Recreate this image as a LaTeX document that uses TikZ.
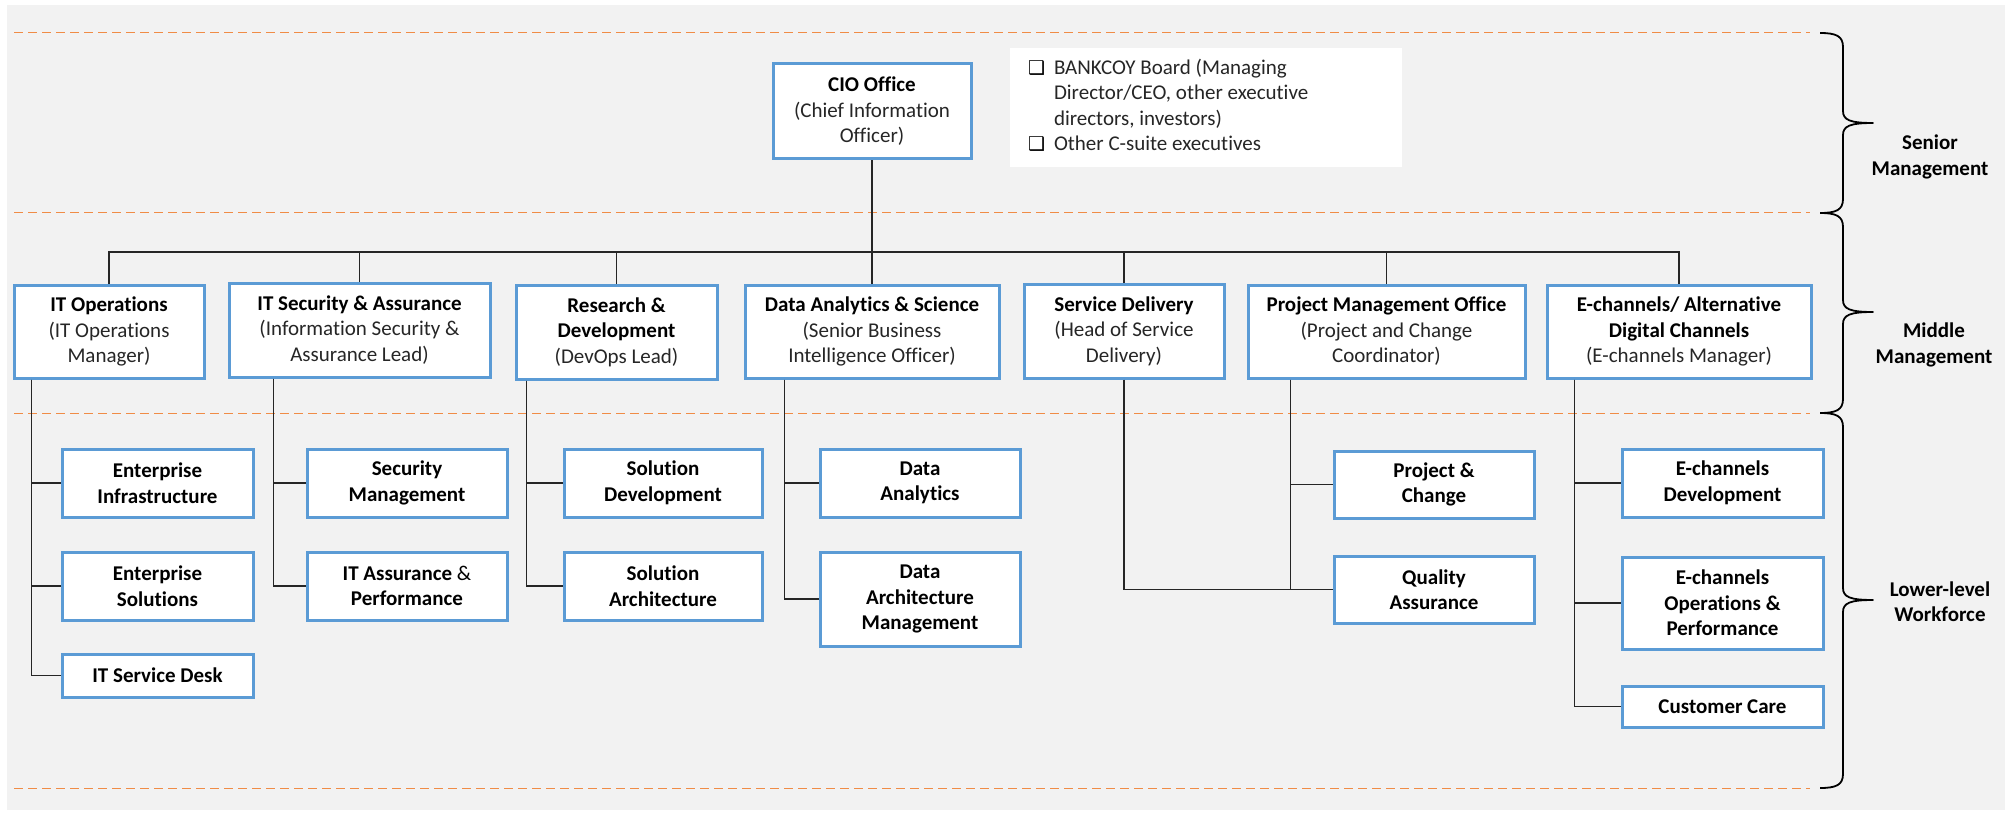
\documentclass[tikz,border=0pt]{standalone}
\usepackage{fontspec}
\setmainfont{Carlito}[Ligatures={NoCommon,NoRare,NoDiscretionary}]
\newfontfamily\symfont{DejaVu Sans}
\usetikzlibrary{calc}
\definecolor{boxblue}{RGB}{91,155,213}
\definecolor{dashorange}{RGB}{240,140,70}
\definecolor{bggray}{RGB}{242,242,242}
\definecolor{subgray}{RGB}{38,38,38}
\definecolor{linegray}{RGB}{38,38,38}
\newcommand\subt[1]{{\mdseries\color{subgray}#1}}
\newcommand\bulletbox{\makebox[15pt][l]{\smash{\textcolor{black}{\symfont\fontsize{19pt}{19pt}\selectfont ❑}}}}
\newcommand\orgbrace[3]{%
  \draw[bracestyle] (1820,#1) .. controls (1836,#1) and (1843,#1+3) .. (1843,#1+14)
    -- (1843,#2-12) .. controls (1843,#2-3) and (1850,#2) .. (1873,#2)
    .. controls (1850,#2) and (1843,#2+3) .. (1843,#2+12)
    -- (1843,#3-14) .. controls (1843,#3-3) and (1836,#3) .. (1820,#3);}
\begin{document}
\begin{tikzpicture}[x=1pt,y=-1pt,
  orgbox/.style={draw=boxblue, line width=3pt, fill=white, align=center, inner sep=0pt,
    font=\fontsize{21pt}{25.5pt}\selectfont\bfseries, text=black},
  conn/.style={draw=linegray, line width=1.3pt},
  dashline/.style={draw=dashorange, line width=1pt, dash pattern=on 9pt off 5pt},
  bracestyle/.style={draw=black, line width=1.8pt, line join=round},
  lvl/.style={font=\fontsize{21pt}{25.5pt}\selectfont\bfseries, align=center, inner sep=0pt, text=black},
]
\useasboundingbox (0,0) rectangle (2011,813);
\fill[bggray] (7,5) rectangle (2005,810);

% level separators
\draw[dashline] (14,33) -- (1810,33);
\draw[dashline] (14,213) -- (1810,213);
\draw[dashline] (14,413) -- (1810,413);
\draw[dashline] (14,788) -- (1810,788);

% braces
\orgbrace{33}{123}{213}
\orgbrace{213}{312}{413}
\orgbrace{413}{600}{788}

\node[lvl] (lsenior) at (1930,157) {Senior\\Management};
\node[lvl] (lmiddle) at (1934,345) {Middle\\Management};
\node[lvl] (llower) at (1940,601.5) {Lower-level\\Workforce};

% board note
\node[fill=white, inner sep=0pt, minimum width=392pt, minimum height=119pt,
  font=\fontsize{21pt}{25.5pt}\selectfont, text=linegray] (board) at (1206,107.5)
  {\begin{tabular}{@{}l@{\hspace{11pt}}p{330pt}@{}}
   \bulletbox & BANKCOY Board (Managing\\
   & Director/CEO, other executive\\
   & directors, investors)\\
   \bulletbox & Other C-suite executives
   \end{tabular}};

% top
\node[orgbox, minimum width=198pt, minimum height=95pt] (cio) at (872,111.5)
  {CIO Office\\\subt{(Chief Information}\\\subt{Officer)}};

% middle management
\node[orgbox, minimum width=190pt, minimum height=93pt] (itops) at (109,331.5)
  {IT Operations\\\subt{(IT Operations}\\\subt{Manager)}};
\node[orgbox, minimum width=261pt, minimum height=94pt] (itsec) at (359.5,330)
  {IT Security \& Assurance\\\subt{(Information Security \&}\\\subt{Assurance Lead)}};
\node[orgbox, minimum width=201pt, minimum height=94pt] (rd) at (616.5,332)
  {Research \&\\Development\\\subt{(DevOps Lead)}};
\node[orgbox, minimum width=254pt, minimum height=93pt] (das) at (872,331.5)
  {Data Analytics \& Science\\\subt{(Senior Business}\\\subt{Intelligence Officer)}};
\node[orgbox, minimum width=200pt, minimum height=94pt] (sd) at (1124,331)
  {Service Delivery\\\subt{(Head of Service}\\\subt{Delivery)}};
\node[orgbox, minimum width=277pt, minimum height=93pt] (pmo) at (1386.5,331.5)
  {Project Management Office\\\subt{(Project and Change}\\\subt{Coordinator)}};
\node[orgbox, minimum width=264pt, minimum height=93pt] (ech) at (1679,331.5)
  {E-channels/ Alternative\\Digital Channels\\\subt{(E-channels Manager)}};

% lower-level workforce
\node[orgbox, minimum width=191pt, minimum height=68pt] (ei) at (157.5,483) {Enterprise\\Infrastructure};
\node[orgbox, minimum width=191pt, minimum height=68pt] (es) at (157.5,586) {Enterprise\\Solutions};
\node[orgbox, minimum width=191pt, minimum height=43pt] (itsd) at (157.5,675.5) {IT Service Desk};
\node[orgbox, minimum width=200pt, minimum height=68pt] (sm) at (407,483) {Security\\Management};
\node[orgbox, minimum width=200pt, minimum height=68pt] (ita) at (407,586) {IT Assurance {\mdseries\&}\\Performance};
\node[orgbox, minimum width=198pt, minimum height=68pt] (sdev) at (663,483) {Solution\\Development};
\node[orgbox, minimum width=198pt, minimum height=68pt] (sarch) at (663,586) {Solution\\Architecture};
\node[orgbox, minimum width=200pt, minimum height=68pt] (da) at (920,483) {Data\\Analytics};
\node[orgbox, minimum width=200pt, minimum height=94pt] (dam) at (920,599) {Data\\Architecture\\Management};
\node[orgbox, minimum width=200pt, minimum height=67pt] (pc) at (1434,484.5) {Project \&\\Change};
\node[orgbox, minimum width=200pt, minimum height=67pt] (qa) at (1434,589.5) {Quality\\Assurance};
\node[orgbox, minimum width=201pt, minimum height=68pt] (ed) at (1722.5,483) {E-channels\\Development};
\node[orgbox, minimum width=201pt, minimum height=92pt] (eop) at (1722.5,603) {E-channels\\Operations \&\\Performance};
\node[orgbox, minimum width=201pt, minimum height=41pt] (cc) at (1722.5,706.5) {Customer Care};

% top-level connectors
\coordinate (bus) at (0,252);
\draw[conn] (cio.south) -- (das.north);
\draw[conn] (itops.north) |- (bus -| ech.north) -- (ech.north);
\foreach \n in {itsec,rd,sd,pmo} \draw[conn] (\n.north) -- (\n.north |- bus);

% drop points
\coordinate (itopsD) at ([xshift=19pt]itops.south west);
\coordinate (itsecD) at ([xshift=46pt]itsec.south west);
\coordinate (rdD) at ([xshift=12pt]rd.south west);
\coordinate (dasD) at ([xshift=41pt]das.south west);
\coordinate (pmoD) at ([xshift=44pt]pmo.south west);
\coordinate (echD) at ([xshift=29pt]ech.south west);

\foreach \c in {ei,es,itsd} \draw[conn] (itopsD) |- (\c.west);
\foreach \c in {sm,ita} \draw[conn] (itsecD) |- (\c.west);
\foreach \c in {sdev,sarch} \draw[conn] (rdD) |- (\c.west);
\foreach \c in {da,dam} \draw[conn] (dasD) |- (\c.west);
\foreach \c in {pc,qa} \draw[conn] (pmoD) |- (\c.west);
\foreach \c in {ed,eop,cc} \draw[conn] (echD) |- (\c.west);
\draw[conn] (sd.south) |- (qa.west);
\end{tikzpicture}
\end{document}
